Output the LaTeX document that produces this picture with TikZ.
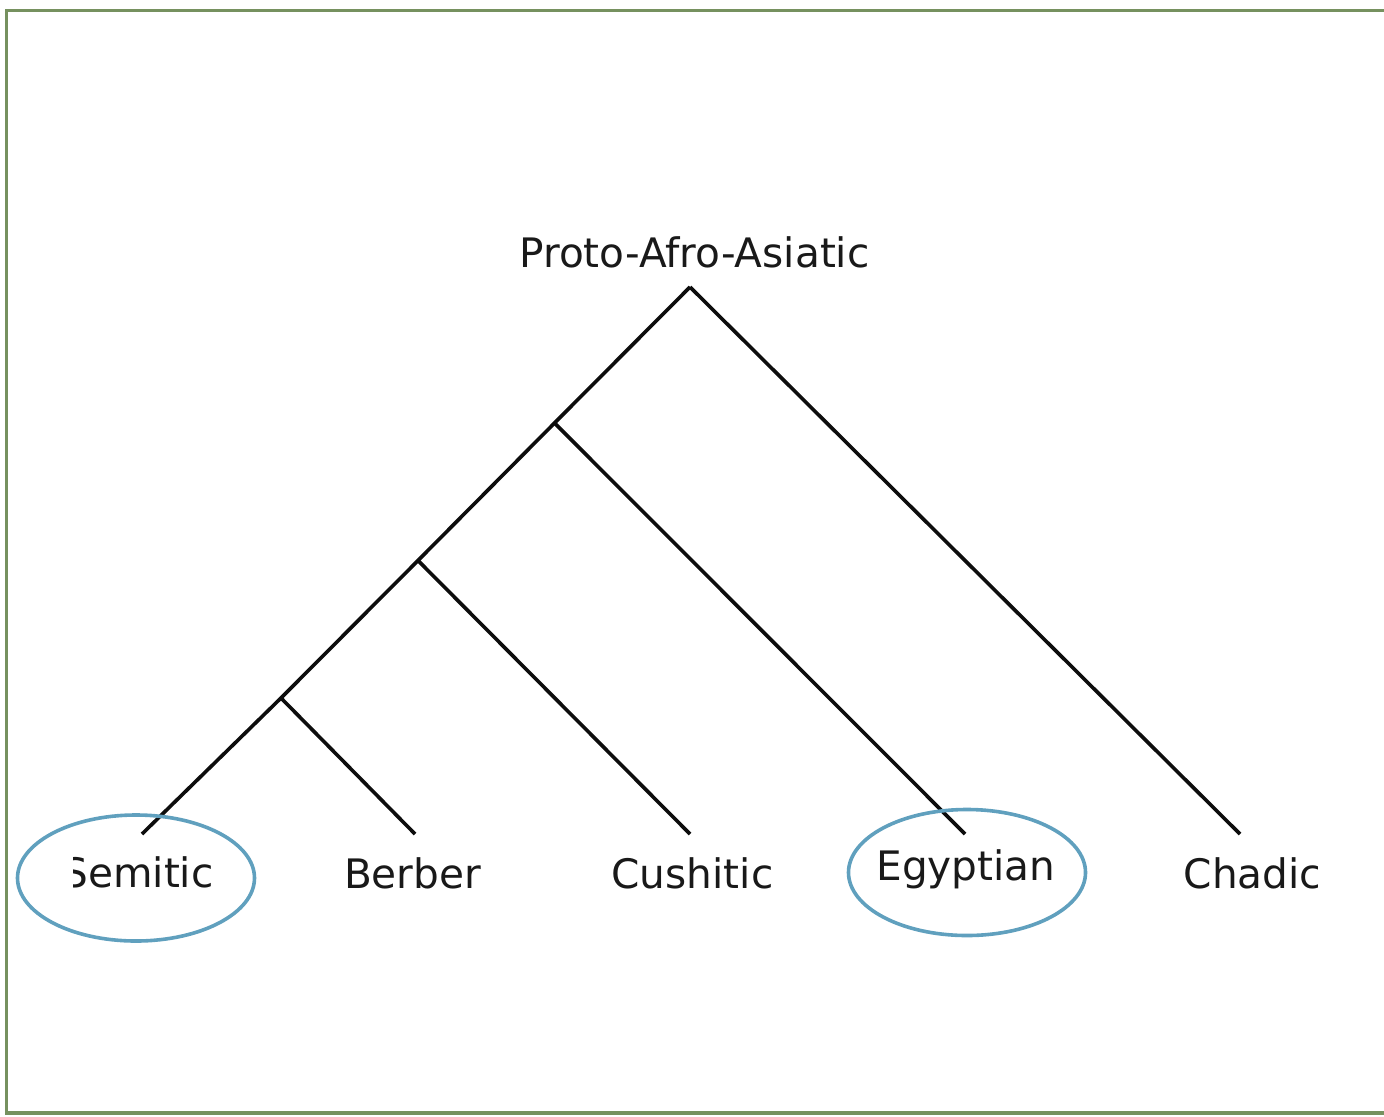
\documentclass[tikz,border=0pt]{standalone}
\usepackage{fontspec}
\setmainfont{DejaVu Sans}
\usetikzlibrary{shapes.geometric}
\definecolor{framegreen}{RGB}{118,145,95}
\definecolor{ringblue}{RGB}{96,160,190}
\begin{document}
\begin{tikzpicture}[x=1bp,y=-1bp,
  branch/.style={line width=3.6bp,black!95},
  lab/.style={anchor=base,inner sep=0pt,font=\fontsize{40.6bp}{48bp}\selectfont,text=black!90},
  ring/.style={ellipse,draw=ringblue,line width=3.6bp,inner sep=0pt,minimum width=237bp,minimum height=126bp}]
\useasboundingbox (0,0) rectangle (1384,1116);
\clip (0,0) rectangle (1384,1116);
% frame
\draw[framegreen,line width=3.4bp] (1400,10.5) -- (6.5,10.5) -- (6.5,1113) -- (1400,1113);
% tree points
\coordinate (r) at (690,287);
\coordinate (n1) at (554.5,423);
\coordinate (n2) at (418,560.5);
\coordinate (n3) at (281,698);
\coordinate (lS) at (142,834);
\coordinate (lB) at (415,834);
\coordinate (lC) at (690,834);
\coordinate (lE) at (965,834);
\coordinate (lCh) at (1240,834);
% labels
\node[lab] (proto) at (694.5,267) {Proto-Afro-Asiatic};
\begin{scope}
\clip (73,800) rectangle (400,960);
\node[lab] (sem) at (138,887) {Semitic};
\end{scope}
\node[lab] (ber) at (412.5,888) {Berber};
\node[lab] (cus) at (692.5,888) {Cushitic};
\node[lab] (egy) at (966,880) {Egyptian};
\begin{scope}
\clip (1100,800) rectangle (1317,960);
\node[lab] (cha) at (1253,888) {Chadic};
\end{scope}
% branches
\draw[branch] (r) -- (n1) -- (n2) -- (n3) -- (lS);
\draw[branch] (r) -- (lCh);
\draw[branch] (n1) -- (lE);
\draw[branch] (n2) -- (lC);
\draw[branch] (n3) -- (lB);
% rings
\node[ring] (ringS) at (136,878) {};
\node[ring] (ringE) at (967,872.5) {};
\end{tikzpicture}
\end{document}
